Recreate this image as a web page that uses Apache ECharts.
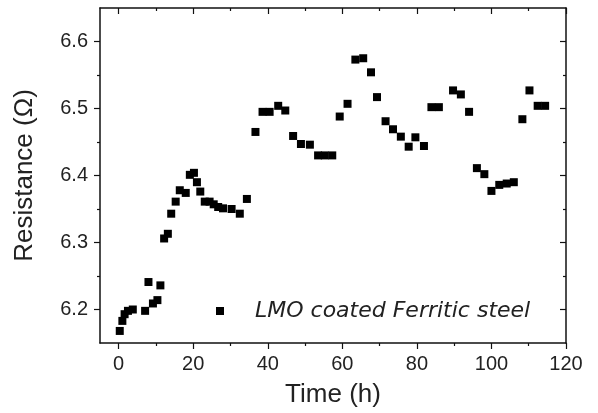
<!DOCTYPE html>
<html>
<head>
<meta charset="utf-8">
<script src="https://cdn.jsdelivr.net/npm/echarts@6/dist/echarts.min.js"></script>
<style>
html, body { margin: 0; padding: 0; background: #fff; }
#chart { width: 598px; height: 413px; }
</style>
</head>
<body>
<div id="chart"></div>
<script>
// values
const seriesName = "LMO coated Ferritic steel";
const timeH = [0.3, 1.0, 1.6, 2.5, 3.8, 7.1, 8.0, 9.2, 10.4, 11.2, 12.2, 13.2, 14.1, 15.3, 16.4, 18.0, 19.1, 20.2, 21.0, 21.9,
  23.1, 24.4, 25.5, 26.7, 28.0, 30.3, 32.5, 34.4, 36.7, 38.6, 40.5, 42.8, 44.7, 46.8, 48.9, 51.3, 53.5, 55.3, 57.3, 59.3,
  61.4, 63.5, 65.6, 67.7, 69.3, 71.6, 73.6, 75.7, 77.8, 79.6, 81.9, 83.9, 85.9, 89.7, 91.8, 94.0, 96.1, 98.1, 100.0, 102.1,
  104.1, 106.0, 108.3, 110.2, 112.4, 114.4];
const resistance = [6.168, 6.183, 6.193, 6.198, 6.200, 6.198, 6.241, 6.209, 6.214, 6.236, 6.306, 6.313, 6.343, 6.361, 6.378, 6.374, 6.401, 6.404, 6.390, 6.376,
  6.361, 6.361, 6.357, 6.353, 6.351, 6.350, 6.343, 6.365, 6.465, 6.495, 6.495, 6.504, 6.497, 6.459, 6.447, 6.446, 6.430, 6.430, 6.430, 6.488,
  6.507, 6.573, 6.575, 6.554, 6.517, 6.481, 6.469, 6.458, 6.443, 6.457, 6.444, 6.502, 6.502, 6.527, 6.521, 6.495, 6.411, 6.402, 6.377, 6.386,
  6.388, 6.390, 6.484, 6.527, 6.504, 6.504];
const xMajor = [0, 20, 40, 60, 80, 100, 120];
const xMinor = [10, 30, 50, 70, 90, 110];
const yMajor = [6.2, 6.3, 6.4, 6.5, 6.6];
const yMinor = [6.25, 6.35, 6.45, 6.55];

let chart = echarts.init(document.getElementById("chart"));
const font = "Liberation Sans, Arial, sans-serif";
const ink = "#111";

// one axis per tick set (major/minor, bottom-left outward, top-right inward)
function xAx(pos, ticks, len, inside, labels, line) {
  return {
    type: "value", position: pos, min: -5, max: 120,
    axisLine: { show: line, onZero: false, lineStyle: { color: ink, width: 1.5 } },
    axisTick: { show: true, inside: inside, length: len, customValues: ticks, lineStyle: { color: ink, width: 1.2 } },
    axisLabel: labels ? { show: true, customValues: ticks, margin: 11, fontSize: 20, fontFamily: font, color: "#222" } : { show: false },
    splitLine: { show: false }
  };
}
function yAx(pos, ticks, len, inside, labels, line) {
  return {
    type: "value", position: pos, min: 6.15, max: 6.65,
    axisLine: { show: line, onZero: false, lineStyle: { color: ink, width: 1.5 } },
    axisTick: { show: true, inside: inside, length: len, customValues: ticks, lineStyle: { color: ink, width: 1.2 } },
    axisLabel: labels ? {
      show: true, customValues: ticks, margin: 12, fontSize: 20, fontFamily: font, color: "#222",
      formatter: v => v.toFixed(1)
    } : { show: false },
    splitLine: { show: false }
  };
}

let xs = [
  xAx("bottom", xMajor, 6, false, true, true),
  xAx("bottom", xMinor, 3, false, false, false),
  xAx("top", xMajor, 6, true, false, true),
  xAx("top", xMinor, 3, true, false, false)
];
xs[0].name = "Time (h)";
xs[0].nameLocation = "middle";
xs[0].nameGap = 39;
xs[0].nameTextStyle = { fontSize: 26, fontFamily: font, color: "#222" };

let ys = [
  yAx("left", yMajor, 6, false, true, true),
  yAx("left", yMinor, 3, false, false, false),
  yAx("right", yMajor, 6, true, false, true),
  yAx("right", yMinor, 3, true, false, false)
];
ys[0].name = "Resistance (\u03A9)";
ys[0].nameLocation = "middle";
ys[0].nameGap = 62;
ys[0].nameTextStyle = { fontSize: 26, fontFamily: font, color: "#222" };

let option = {
  backgroundColor: "#fff",
  animation: false,
  grid: { left: 100, right: 32, top: 8, bottom: 68 },
  legend: {
    left: 216, top: 300,
    padding: 0,
    itemWidth: 8, itemHeight: 8,
    icon: "rect",
    itemStyle: { opacity: 1 },
    textStyle: { fontSize: 22, fontFamily: "DejaVu Sans, sans-serif", fontStyle: "italic", color: "#222", padding: [0, 0, 0, 26] },
    data: [seriesName]
  },
  xAxis: xs,
  yAxis: ys,
  series: [
    {
      name: seriesName,
      type: "scatter",
      symbol: "rect",
      symbolSize: 8,
      itemStyle: { color: "#000", opacity: 1 },
      data: timeH.map((t, i) => [t, resistance[i]])
    }
  ]
};

chart.setOption(option);
</script>
</body>
</html>
